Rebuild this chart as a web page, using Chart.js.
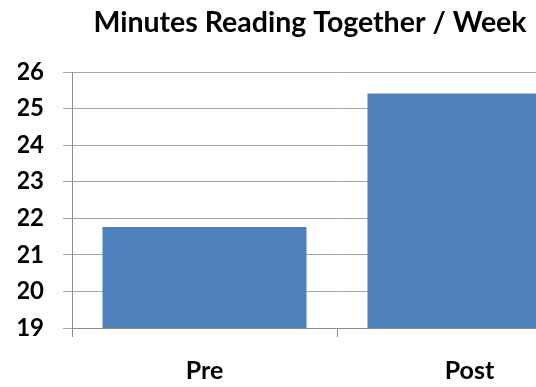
<!DOCTYPE html>
<html>
<head>
<meta charset="utf-8">
<script src="https://cdn.jsdelivr.net/npm/chart.js@4/dist/chart.umd.min.js"></script>
<style>
  html, body { margin: 0; padding: 0; background: #fff; overflow: hidden; }
  #wrap { width: 620px; height: 387px; }
</style>
</head>
<body>
<div id="wrap"><canvas id="chart" width="620" height="387"></canvas></div>
<script>
// Average minutes spent reading together per week, before and after
const categories = ['Pre', 'Post'];
const minutesPerWeek = [21.76, 25.41];
const yTicks = [19, 20, 21, 22, 23, 24, 25, 26];

const FONT = 'Lato, "Open Sans", "Liberation Sans", sans-serif';
const GRID = '#a6a6a6';
const AXIS = '#8c8c8c';

new Chart(document.getElementById('chart'), {
  type: 'bar',
  data: {
    labels: categories,
    datasets: [{
      label: 'Minutes Reading Together / Week',
      data: minutesPerWeek,
      backgroundColor: '#4f81bd',
      borderWidth: 0,
      categoryPercentage: 0.77,
      barPercentage: 1.0
    }]
  },
  options: {
    responsive: false,
    animation: false,
    layout: { padding: { left: 18, right: 18, top: 0, bottom: 0 } },
    plugins: {
      legend: { display: false },
      tooltip: { enabled: false },
      title: {
        display: true,
        text: 'Minutes Reading Together / Week',
        color: '#000',
        font: { family: FONT, size: 28.5, weight: 'bold', lineHeight: 1.2 },
        padding: { top: 5.4, bottom: 32.4 }
      }
    },
    scales: {
      x: {
        grid: {
          drawOnChartArea: false,
          drawTicks: true,
          tickLength: 9,
          color: AXIS,
          offset: true
        },
        border: { color: AXIS, width: 1 },
        ticks: {
          color: '#000',
          font: { family: FONT, size: 25, weight: 'bold' },
          padding: 19
        },
        afterFit: s => { s.height = 59; }
      },
      y: {
        min: yTicks[0],
        max: yTicks[yTicks.length - 1],
        afterBuildTicks: s => { s.ticks = yTicks.map(v => ({ value: v })); },
        grid: {
          color: GRID,
          drawTicks: true,
          tickLength: 9
        },
        border: { color: AXIS, width: 1 },
        ticks: {
          color: '#000',
          font: { family: FONT, size: 24, weight: 'bold' },
          padding: 19
        },
        afterFit: s => { s.width = 54; }
      }
    }
  }
});
</script>
</body>
</html>
